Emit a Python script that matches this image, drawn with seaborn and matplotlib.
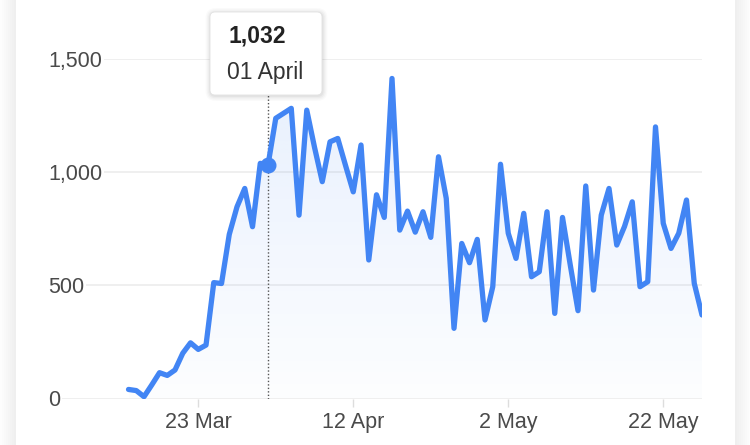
import numpy as np
import pandas as pd
import matplotlib
matplotlib.use("Agg")
import matplotlib.pyplot as plt
import matplotlib.dates as mdates
from matplotlib.colors import to_rgb
from matplotlib.patches import FancyBboxPatch, Rectangle
from matplotlib.transforms import IdentityTransform
import seaborn as sns

# ---------------- data ----------------
start_date = "2020-03-14"
values = [40, 35, 8, 60, 114, 102, 126, 200, 246, 217,
          236, 512, 508, 725, 847, 928, 759, 1039, 1032, 1238,
          1260, 1282, 810, 1274, 1110, 958, 1134, 1149, 1030, 913,
          1120, 612, 900, 800, 1414, 744, 828, 735, 825, 712,
          1068, 884, 310, 685, 600, 703, 347, 494, 1035, 730,
          619, 818, 538, 560, 825, 376, 800, 590, 388, 939,
          479, 810, 928, 678, 760, 869, 494, 516, 1200, 774,
          663, 730, 877, 509, 369]
x_tick_dates = ["2020-03-23", "2020-04-12", "2020-05-02", "2020-05-22"]
x_tick_labels = ["23 Mar", "12 Apr", "2 May", "22 May"]
y_ticks = [0, 500, 1000, 1500]
y_tick_labels = ["0", "500", "1,000", "1,500"]
highlight_date = "2020-04-01"
highlight_label = "01 April"

dates = pd.date_range(start_date, periods=len(values), freq="D")
df = pd.DataFrame({"date": dates, "value": values})

BLUE = "#4285f4"
TXT = "#4a4a4a"

sns.set_theme(style="white")
plt.rcParams["font.family"] = ["Liberation Sans", "DejaVu Sans"]

W, H = 750, 445
fig = plt.figure(figsize=(W / 100, H / 100), dpi=100)
fig.patch.set_facecolor("white")

# card shadow edges (darker close to the card edge)
card_l, card_r = 16, 735
for w in range(2, 17, 2):
    fig.patches.append(Rectangle(((card_l - w) / W, 0), w / W, 1, transform=fig.transFigure,
                                 facecolor="black", alpha=0.009, edgecolor="none", zorder=-5))
    fig.patches.append(Rectangle((card_r / W, 0), w / W, 1, transform=fig.transFigure,
                                 facecolor="black", alpha=0.009, edgecolor="none", zorder=-5))

ax_left, ax_right = 62 / W, 702 / W
ax_bottom, ax_top = (H - 398.5) / H, (H - 59) / H
ax = fig.add_axes([ax_left, ax_bottom, ax_right - ax_left, ax_top - ax_bottom])
ax.set_facecolor("none")

# gradient fill under the line
poly = ax.fill_between(df["date"], df["value"], 0, color="none", linewidth=0)
xnum = mdates.date2num(df["date"])
n = 256
rgba = np.zeros((n, 1, 4))
rgba[..., :3] = to_rgb(BLUE)
rgba[:, 0, 3] = np.linspace(0.13, 0.015, n)
im = ax.imshow(rgba, extent=[xnum.min(), xnum.max(), 0, 1500], aspect="auto",
               origin="upper", zorder=1, interpolation="bilinear")
im.set_clip_path(poly.get_paths()[0], transform=ax.transData)

sns.lineplot(data=df, x="date", y="value", ax=ax, color=BLUE, linewidth=3.8,
             solid_joinstyle="round", solid_capstyle="round", zorder=3)

# highlight (tooltip point)
hd = pd.Timestamp(highlight_date)
hv = int(df.loc[df["date"] == hd, "value"].iloc[0])
ax.plot([hd, hd], [0, 1340], color="#555555", linestyle=(0, (1, 1.5)), linewidth=1.0, zorder=2)
ax.plot([hd], [hv], marker="o", markersize=10.5, color=BLUE, zorder=4)

# axes styling
ax.set_xlim(pd.Timestamp("2020-03-05 10:00"), df["date"].iloc[-1])
ax.set_ylim(0, 1500)
ax.set_yticks(y_ticks)
ax.set_yticklabels(y_tick_labels)
ax.set_xticks(pd.to_datetime(x_tick_dates))
ax.set_xticklabels(x_tick_labels)
for s in ax.spines.values():
    s.set_visible(False)
ax.grid(axis="y", color="#ebebeb", linewidth=1.1)
ax.grid(axis="x", visible=False)
ax.set_axisbelow(True)
ax.set_xlabel("")
ax.set_ylabel("")
ax.tick_params(axis="y", length=0, pad=10, labelsize=15.5, labelcolor=TXT)
ax.tick_params(axis="x", length=6, width=1, color="#dddddd", pad=4, labelsize=15.5,
               labelcolor=TXT, direction="out")
ax.xaxis.set_ticks_position("bottom")
for lab in ax.get_yticklabels():
    lab.set_horizontalalignment("left")
    lab.set_bbox(dict(facecolor="white", edgecolor="none", pad=1.5))

# tooltip
tr = IdentityTransform()
bx, by, bw, bh = 210, H - 95, 112, 83
for i, a in enumerate([0.035, 0.03, 0.025, 0.02]):
    d = 1 + i * 1.3
    fig.patches.append(FancyBboxPatch((bx - d + 0.5, by - d - 1), bw + 2 * d, bh + 2 * d,
                                      boxstyle="round,pad=0,rounding_size=%g" % (5 + d),
                                      transform=tr, facecolor="black", alpha=a,
                                      edgecolor="none", zorder=9))
fig.patches.append(FancyBboxPatch((bx, by), bw, bh, boxstyle="round,pad=0,rounding_size=5",
                                  transform=tr, facecolor="white", edgecolor="#e2e2e2",
                                  linewidth=0.6, zorder=10))
fig.text(228 / W, (H - 36) / H, f"{hv:,}", fontsize=16.5, fontweight="bold", color="#222222",
         ha="left", va="center", zorder=11)
fig.text(227 / W, (H - 73) / H, highlight_label, fontsize=16.5, color="#333333",
         ha="left", va="center", zorder=11)

fig.savefig("out.png", dpi=100, facecolor=fig.get_facecolor())
